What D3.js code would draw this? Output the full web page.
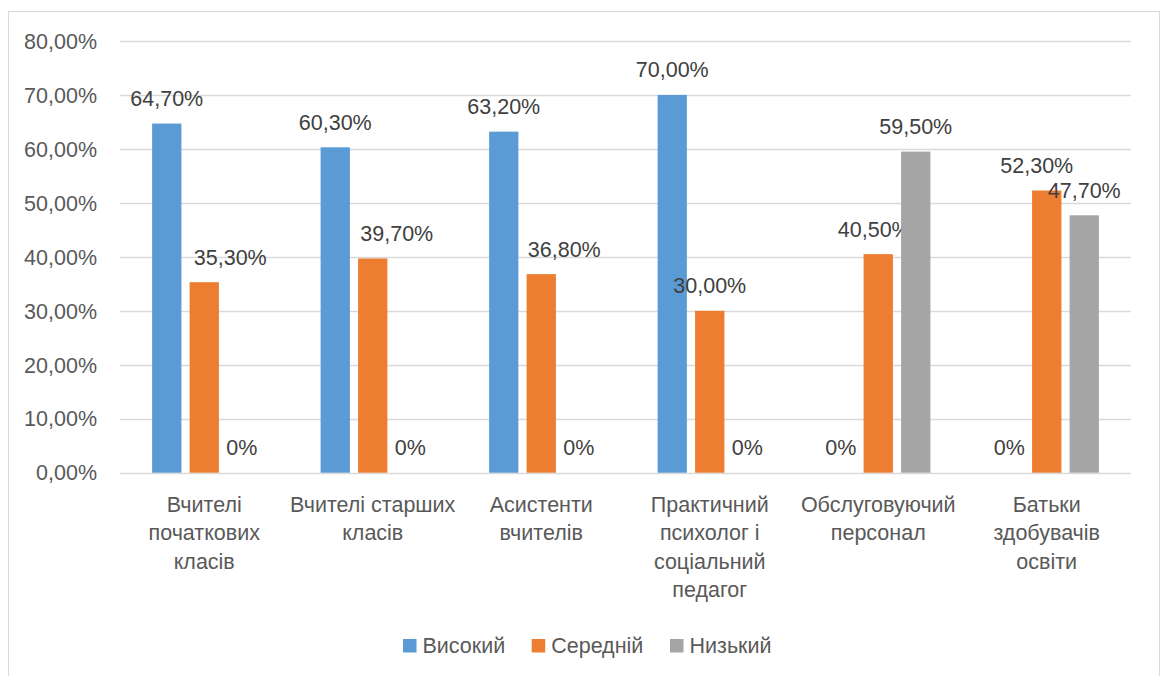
<!DOCTYPE html>
<html><head><meta charset="utf-8">
<script src="https://cdn.jsdelivr.net/npm/d3@7"></script>
<style>
html,body{margin:0;padding:0;background:#fff;}
svg{display:block;font-family:"Liberation Sans",Arial,sans-serif;}
</style></head>
<body><svg id="chart" width="1161" height="676"></svg>
<script>
const categories = ["Вчителі\nпочаткових\nкласів","Вчителі старших\nкласів","Асистенти\nвчителів","Практичний\nпсихолог і\nсоціальний\nпедагог","Обслуговуючий\nперсонал","Батьки\nздобувачів\nосвіти"];
const seriesNames = ["Високий","Середній","Низький"];
const high   = [64.7, 60.3, 63.2, 70.0, 0, 0];
const medium = [35.3, 39.7, 36.8, 30.0, 40.5, 52.3];
const low    = [0, 0, 0, 0, 59.5, 47.7];
const labelsHigh   = ["64,70%","60,30%","63,20%","70,00%","0%","0%"];
const labelsMedium = ["35,30%","39,70%","36,80%","30,00%","40,50%","52,30%"];
const labelsLow    = ["0%","0%","0%","0%","59,50%","47,70%"];
const yTicks = [0,10,20,30,40,50,60,70,80];
const yTickLabels = ["0,00%","10,00%","20,00%","30,00%","40,00%","50,00%","60,00%","70,00%","80,00%"];
// label nudges (px) for overlapping data labels, per series x category
const nudgeMedium = [26, 24, 23, 0, -4, -10];

const colors = ["#5B9BD5","#ED7D31","#A5A5A5"];
const values = [high, medium, low];
const labels = [labelsHigh, labelsMedium, labelsLow];
const nudges = [[0,0,0,0,0,0], nudgeMedium, [0,0,0,0,0,0]];
const FS = 21.5;

const svg = d3.select("#chart");
// outer border
svg.append("rect").attr("x",8.5).attr("y",11.5).attr("width",1151).attr("height",700)
  .attr("fill","none").attr("stroke","#D9D9D9").attr("stroke-width",1);

const plot = {left:120, right:1131, top:41, bottom:472.7};
const x0 = d3.scaleBand().domain(d3.range(categories.length)).range([plot.left, plot.right]).paddingInner(0).paddingOuter(0);
const y = d3.scaleLinear().domain([0,80]).range([plot.bottom, plot.top]);
const step = 37.5, bw = 29.3;

// gridlines
svg.append("g").selectAll("line").data(yTicks).join("line")
  .attr("x1",plot.left).attr("x2",plot.right)
  .attr("y1",d=>Math.round(y(d))+0.5).attr("y2",d=>Math.round(y(d))+0.5)
  .attr("stroke","#D9D9D9").attr("stroke-width",1.3);

// y labels
svg.append("g").selectAll("text").data(yTicks).join("text")
  .attr("x",97).attr("y",d=>y(d)).attr("dy","0.36em").attr("text-anchor","end")
  .attr("font-size",FS).attr("fill","#595959").text((d,i)=>yTickLabels[i]);

// bars
values.forEach((vals,s)=>{
  const g = svg.append("g");
  g.selectAll("rect").data(vals).join("rect")
    .attr("x",(d,i)=>x0(i)+x0.bandwidth()/2+(s-1)*step-bw/2)
    .attr("width",bw)
    .attr("y",d=>y(d)).attr("height",d=>y(0)-y(d))
    .attr("fill",colors[s]);
  g.selectAll("text").data(vals).join("text")
    .attr("x",(d,i)=>x0(i)+x0.bandwidth()/2+(s-1)*step+nudges[s][i])
    .attr("y",d=>y(d)-17.5)
    .attr("text-anchor","middle").attr("font-size",FS).attr("fill","#404040")
    .text((d,i)=>labels[s][i]);
});

// category labels
const cg = svg.append("g");
categories.forEach((c,i)=>{
  const t = cg.append("text").attr("text-anchor","middle").attr("font-size",FS).attr("fill","#595959");
  c.split("\n").forEach((line,j)=>{
    t.append("tspan").attr("x",x0(i)+x0.bandwidth()/2).attr("y",511.5+j*28.5).text(line);
  });
});

// legend
const legendX = [403, 531.7, 670];
const lg = svg.append("g");
seriesNames.forEach((n,i)=>{
  lg.append("rect").attr("x",legendX[i]).attr("y",639).attr("width",13.5).attr("height",13.5).attr("fill",colors[i]);
  lg.append("text").attr("x",legendX[i]+19.5).attr("y",653).attr("font-size",FS).attr("fill","#595959").text(n);
});
</script>
</body></html>
